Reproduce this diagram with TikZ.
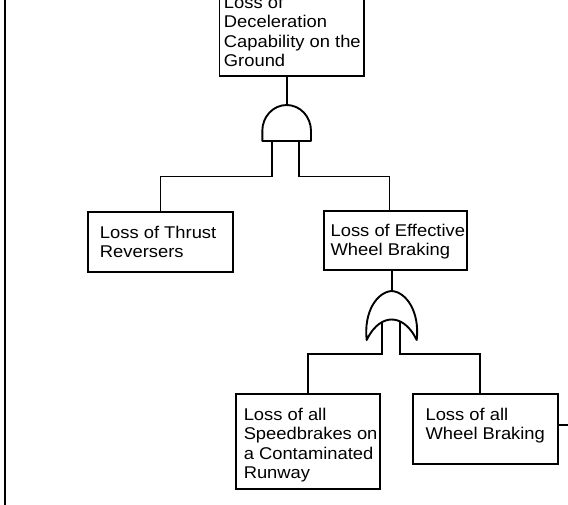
\documentclass[tikz,border=0pt]{standalone}
\usepackage{fontspec}
\setmainfont{Liberation Sans}[FakeStretch=1.08]

% event box contents: width, height, left pad, top pad, lines
\newcommand\evtext[5]{%
  \parbox[c][#2pt][t]{#1pt}{\vspace*{#4pt}\hspace*{#3pt}%
    \begin{tabular}[t]{@{}l@{}}#5\end{tabular}}}

\begin{document}
\begin{tikzpicture}[x=1pt,y=-1pt,
  every node/.style={font=\fontsize{17}{19.5}\selectfont},
  event/.style={draw, line width=1.9pt, inner sep=0pt, anchor=north west},
  link/.style={line width=1.8pt},
  gateline/.style={line width=1.9pt, line join=round}]
\useasboundingbox (0,0) rectangle (568,504);
\clip (0,0) rectangle (568,504);

% margin rule on the left
\coordinate (ruleTop) at (5,-2);
\coordinate (ruleBot) at (5,506);
\draw[line width=2pt] (ruleTop) -- (ruleBot);

% events
\node[event] (top) at (218.5,-14)
  {\evtext{144.5}{89.3}{4.5}{7.5}{Loss of\\Deceleration\\Capability on the\\Ground}};
\node[event] (thrust) at (87,211)
  {\evtext{144.9}{59.7}{12}{12.5}{Loss of Thrust\\Reversers}};
\node[event] (eff) at (323.2,210)
  {\evtext{143.1}{59.3}{6.5}{11.5}{Loss of Effective\\Wheel Braking}};
\node[event] (speed) at (234.8,393.3)
  {\evtext{144.5}{95}{8}{12.5}{Loss of all\\Speedbrakes on\\a Contaminated\\Runway}};
\node[event] (wheel) at (412,393.3)
  {\evtext{144.9}{70}{12.6}{12.2}{Loss of all\\Wheel Braking}};

% AND gate
\coordinate (andOut) at (286.65,105);
\coordinate (andIn1) at (271.7,141);
\coordinate (andIn2) at (298.9,141);
\draw[gateline] (262.3,141) -- (262.3,131)
  .. controls (262.3,116.6) and (273.2,105) .. (andOut)
  .. controls (300.1,105) and (311,116.6) .. (311,131)
  -- (311,141) -- cycle;

% OR gate
\coordinate (orOut) at (391.7,291);
\coordinate (orIn1) at (382.2,322);
\coordinate (orIn2) at (399.6,322);
\draw[gateline] (366.7,340)
  .. controls (363.5,312) and (377,292) .. (orOut)
  .. controls (406.4,292) and (419.9,312) .. (416.7,340)
  .. controls (409,324) and (399,319.5) .. (391.7,319.5)
  .. controls (384.4,319.5) and (374.4,324) .. cycle;

% connectors
\draw[link] (andOut) -- (andOut |- top.south);
\draw[link] (andIn1) -- ++(0,35.5) -| (thrust.north);
\draw[link] (andIn2) -- ++(0,35.5) -| ([xshift=-6.3pt]eff.north);
\draw[link] (orOut) -- (orOut |- eff.south);
\draw[link] (orIn1) -- ++(0,32) -| (speed.north);
\draw[link] (orIn2) -- ++(0,32) -| ([xshift=-5.5pt]wheel.north);

% transfer line leaving the last event
\coordinate (offRight) at (570,425);
\draw[link] (wheel.east |- offRight) -- (offRight);
\end{tikzpicture}
\end{document}
